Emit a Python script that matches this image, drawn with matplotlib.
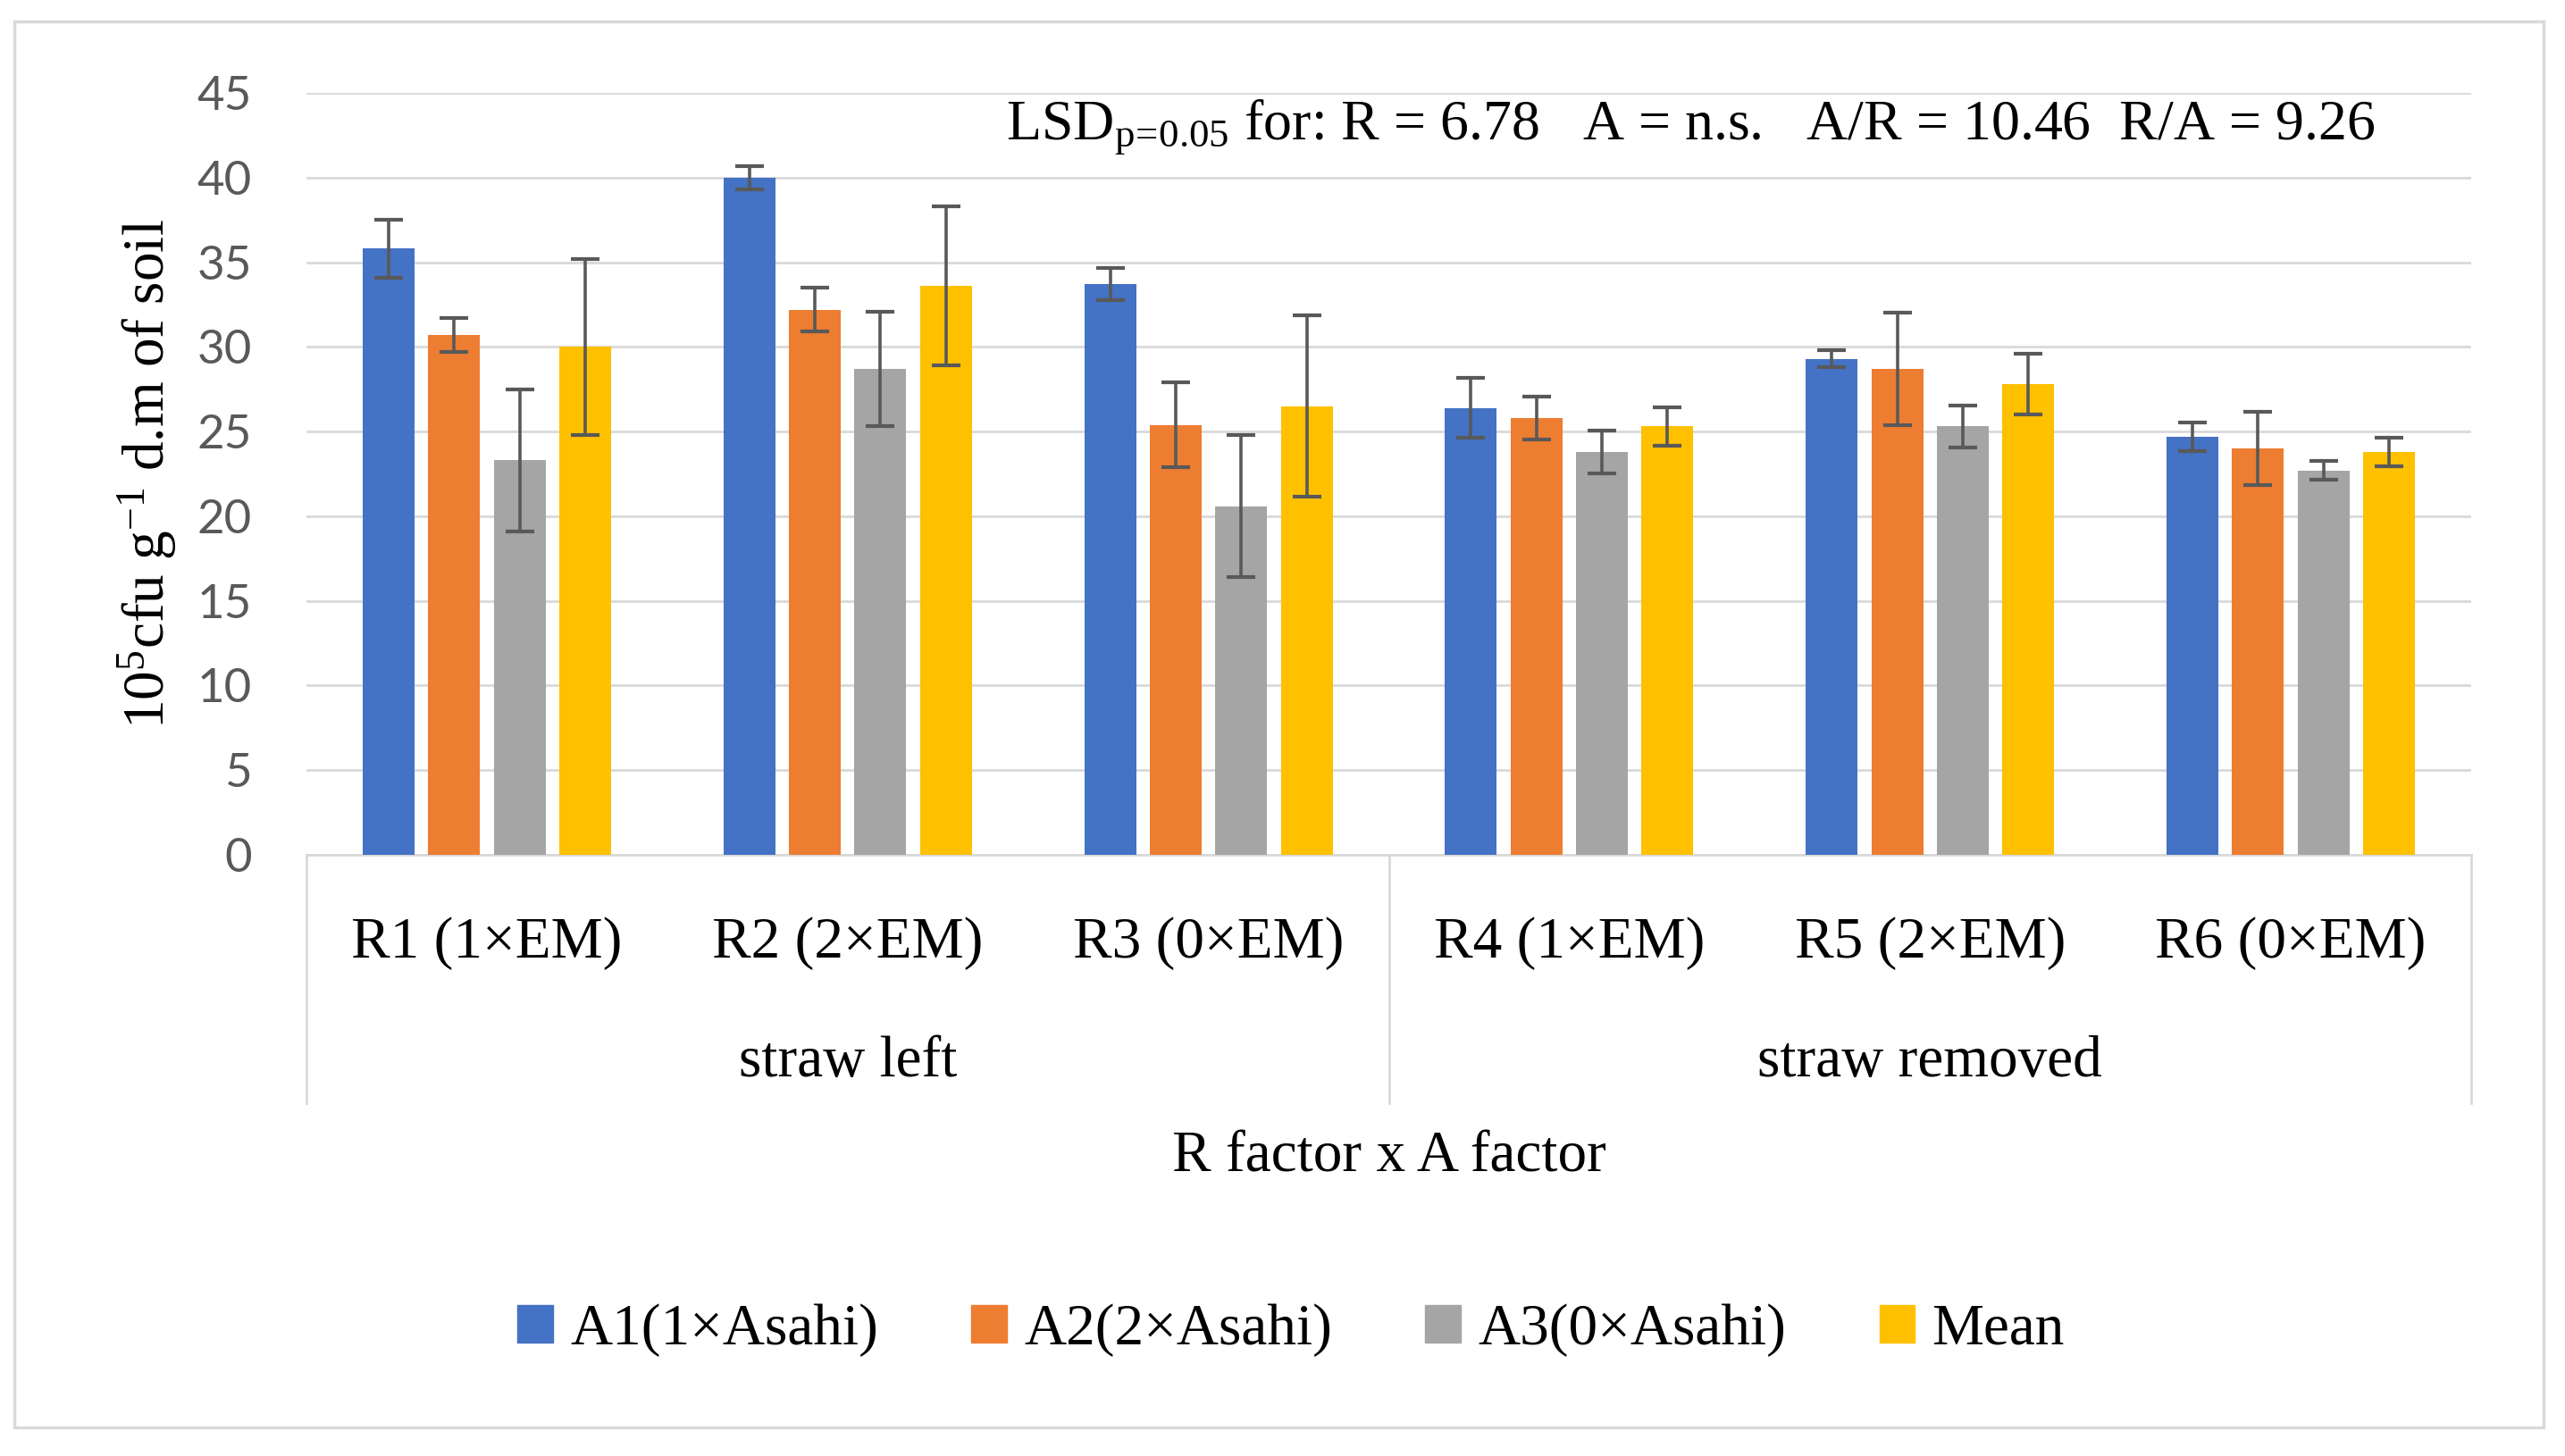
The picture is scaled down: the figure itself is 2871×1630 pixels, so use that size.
import numpy as np
import matplotlib
matplotlib.use('Agg')
import matplotlib.pyplot as plt
from matplotlib.patches import Patch, Rectangle
from matplotlib.lines import Line2D

# 数据
categories = ['R1 (1×EM)', 'R2 (2×EM)', 'R3 (0×EM)', 'R4 (1×EM)', 'R5 (2×EM)', 'R6 (0×EM)']
groups = ['straw left', 'straw removed']
series_names = ['A1(1×Asahi)', 'A2(2×Asahi)', 'A3(0×Asahi)', 'Mean']
a1 = [35.8, 40.0, 33.7, 26.4, 29.3, 24.7]
a2 = [30.7, 32.2, 25.4, 25.8, 28.7, 24.0]
a3 = [23.3, 28.7, 20.6, 23.8, 25.3, 22.7]
mean = [30.0, 33.6, 26.5, 25.3, 27.8, 23.8]
a1_err = [1.7, 0.7, 0.95, 1.75, 0.5, 0.85]
a2_err = [1.0, 1.3, 2.5, 1.25, 3.3, 2.15]
a3_err = [4.2, 3.4, 4.2, 1.27, 1.26, 0.55]
mean_err = [5.2, 4.7, 5.35, 1.15, 1.78, 0.83]
yticks = [0, 5, 10, 15, 20, 25, 30, 35, 40, 45]

values = [a1, a2, a3, mean]
errors = [a1_err, a2_err, a3_err, mean_err]
colors = ['#4472C4', '#ED7D31', '#A5A5A5', '#FFC000']

plt.rcParams['mathtext.fontset'] = 'custom'
plt.rcParams['mathtext.rm'] = 'Liberation Serif'
plt.rcParams['mathtext.it'] = 'Liberation Serif:italic'
serif = ['Liberation Serif', 'DejaVu Serif']

W, H = 2871, 1630
fig = plt.figure(figsize=(W / 100, H / 100), dpi=100)

# 外框
fig.patches.append(Rectangle((16 / W, 1 - 1598 / H), (2847 - 16) / W, (1598 - 24) / H,
                             transform=fig.transFigure, fill=False, edgecolor='#d9d9d9', lw=2.5))

left, right, top, bottom = 343, 2766, 104, 957
ax = fig.add_axes([left / W, 1 - bottom / H, (right - left) / W, (bottom - top) / H])

x = np.arange(len(categories))
step = 0.1816
width = 0.1436
for i in range(4):
    ax.bar(x + (i - 1.5) * step, values[i], width, color=colors[i], zorder=3,
           yerr=errors[i], error_kw=dict(ecolor='#595959', elinewidth=2.6, capsize=11.5, capthick=3, zorder=4))

ax.set_xlim(-0.5, 5.5)
ax.set_ylim(0, 45)
ax.set_yticks(yticks)
ax.yaxis.grid(True, color='#d9d9d9', lw=2, zorder=0)
ax.set_axisbelow(True)
for s in ['left', 'right', 'top']:
    ax.spines[s].set_visible(False)
ax.spines['bottom'].set_color('#d9d9d9')
ax.spines['bottom'].set_linewidth(2)
ax.tick_params(axis='y', length=0, pad=44, labelsize=38, labelcolor='#595959')
for lab in ax.get_yticklabels():
    lab.set_family('Lato')
ax.set_xticks([])

# 分类标签
tr = ax.get_xaxis_transform()
for i, c in enumerate(categories):
    ax.text(i, -0.116, c, transform=tr, ha='center', va='center', fontsize=47, family=serif)
for j, g in enumerate(groups):
    ax.text(1 + 3 * j, -0.272, g, transform=tr, ha='center', va='center', fontsize=47, family=serif)
for xs in [-0.5, 2.5, 5.5]:
    ax.add_line(Line2D([xs, xs], [0, -0.326], transform=tr, color='#d9d9d9', lw=2, clip_on=False))
ax.text(2.5, -0.397, 'R factor x A factor', transform=tr, ha='center', va='center', fontsize=47, family=serif)

ax.set_ylabel('$10^{5}$cfu g$^{-1}$ d.m of soil', fontsize=47, family=serif)
ax.yaxis.set_label_coords((200 - left) / (right - left), 0.5)

fig.text(1126 / W, 1 - 142 / H,
         'LSD$_{\\mathrm{p\\!=\\!0.05}}$ for: R = 6.78   A = n.s.   A/R = 10.46  R/A = 9.26',
         ha='left', va='center', fontsize=46, family=serif)

handles = [Patch(color=c) for c in colors]
fig.legend(handles, series_names, loc='center', bbox_to_anchor=(1445 / W, 1 - 1489 / H), ncol=4,
           frameon=False, prop={'family': serif, 'size': 47}, handlelength=0.6, handleheight=0.6,
           handletextpad=0.3, columnspacing=1.6)

fig.savefig('out.png', dpi=100)
